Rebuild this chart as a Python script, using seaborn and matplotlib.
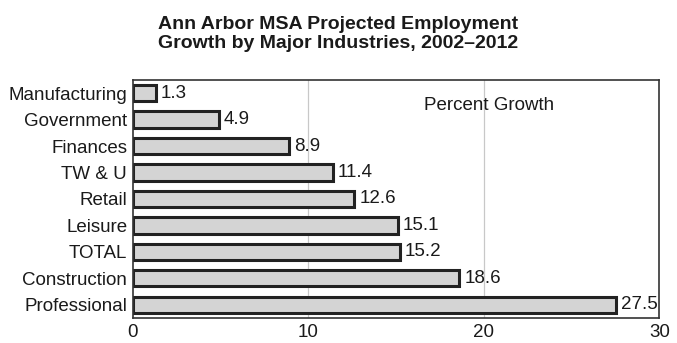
import matplotlib
matplotlib.use("Agg")
import matplotlib.pyplot as plt
import seaborn as sns
import pandas as pd

categories = ["Manufacturing", "Government", "Finances", "TW & U", "Retail",
              "Leisure", "TOTAL", "Construction", "Professional"]
values = [1.3, 4.9, 8.9, 11.4, 12.6, 15.1, 15.2, 18.6, 27.5]
value_labels = ["1.3", "4.9", "8.9", "11.4", "12.6", "15.1", "15.2", "18.6", "27.5"]
x_ticks = [0, 10, 20, 30]
title = "Ann Arbor MSA Projected Employment\nGrowth by Major Industries, 2002\u20132012"
note = "Percent Growth"

sns.set_theme(style="white")
plt.rcParams["font.family"] = ["Liberation Sans", "DejaVu Sans"]

df = pd.DataFrame({"cat": categories, "val": values})

fig = plt.figure(figsize=(6.77, 3.43), dpi=100)
ax = fig.add_axes([0.196, 0.073, 0.778, 0.694])

sns.barplot(data=df, y="cat", x="val", orient="h", color="#d4d4d4",
            edgecolor="#222222", linewidth=2.2, width=0.62, saturation=1, ax=ax)

fs = 13.5
for bar, lab in zip(ax.patches, value_labels):
    ax.text(bar.get_width() + 0.3, bar.get_y() + bar.get_height() / 2, lab,
            va="center", ha="left", fontsize=fs, color="#1a1a1a")

ax.set_xlim(0, 30)
ax.set_ylim(len(categories) - 0.5, -0.5)
ax.set_xticks(x_ticks)
ax.set_xticklabels([str(t) for t in x_ticks], fontsize=fs, color="#1a1a1a")
ax.tick_params(axis="x", length=0, pad=4)
ax.tick_params(axis="y", length=0, pad=4, labelsize=fs, labelcolor="#1a1a1a")
ax.set_xlabel("")
ax.set_ylabel("")
for x in [10, 20]:
    ax.axvline(x, color="#c8c8c8", linewidth=0.9, zorder=0)
for s in ax.spines.values():
    s.set_visible(True)
    s.set_color("#333333")
    s.set_linewidth(1.2)

ax.text(20.3, 0.45, note, ha="center", va="center", fontsize=fs, color="#1a1a1a")

fig.text(0.5, 0.9, title, ha="center", va="center", fontsize=14,
         fontweight="bold", color="#1a1a1a", linespacing=1.15)

fig.savefig("out.png", dpi=100)
